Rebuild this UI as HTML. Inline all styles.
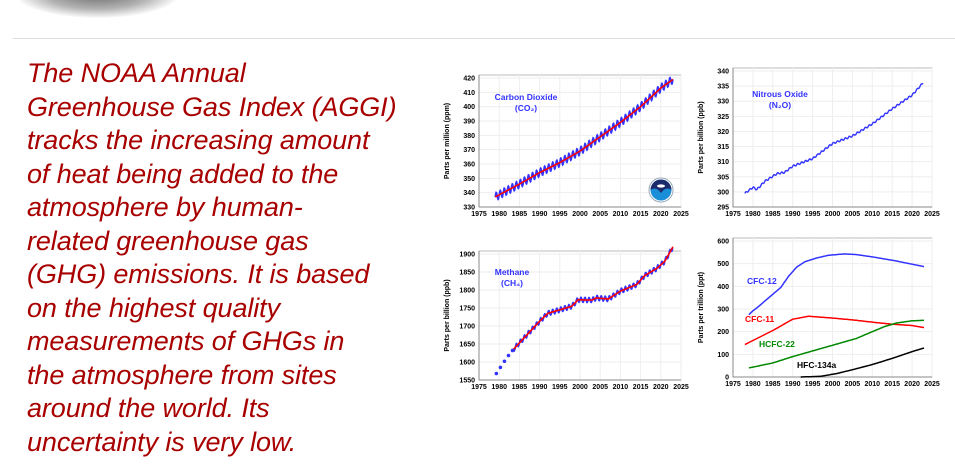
<!DOCTYPE html>
<html><head><meta charset="utf-8"><style>
html,body{margin:0;padding:0;background:#fff;width:955px;height:476px;overflow:hidden;position:relative}
.shadow{position:absolute;left:15px;top:-32px;width:165px;height:50px;border-radius:50%;background:radial-gradient(ellipse at center,rgba(0,0,0,0.6) 0%,rgba(0,0,0,0.3) 45%,rgba(0,0,0,0) 72%)}
.rule{position:absolute;left:13px;top:38px;width:942px;height:1px;background:#ddd}
.txt{position:absolute;left:27px;top:57px;font-family:"Liberation Sans",sans-serif;font-style:italic;font-size:27px;line-height:33.5px;color:#a80000;white-space:nowrap;letter-spacing:-0.1px}
svg{position:absolute;left:0;top:0}
</style></head><body>
<div class="shadow"></div>
<div class="rule"></div>
<div class="txt">The NOAA Annual<br>Greenhouse Gas Index (AGGI)<br>tracks the increasing amount<br>of heat being added to the<br>atmosphere by human-<br>related greenhouse gas<br>(GHG) emissions. It is based<br>on the highest quality<br>measurements of GHGs in<br>the atmosphere from sites<br>around the world. Its<br>uncertainty is very low.</div>
<svg id="s" width="955" height="476" xmlns="http://www.w3.org/2000/svg" font-family="Liberation Sans, sans-serif" font-weight="bold"></svg>
<script>
var s=document.getElementById('s'),out='';
function interp(pts,x){for(var i=0;i<pts.length-1;i++){if(x<=pts[i+1][0]){var a=pts[i],b=pts[i+1];var t=(x-a[0])/(b[0]-a[0]);return a[1]+t*(b[1]-a[1]);}}return pts[pts.length-1][1];}
function panel(p){
 var X=function(y){return p.x0+(y-1975)/50*(p.x1-p.x0)};
 var Y=function(v){return p.yb+(v-p.vmin)/(p.vmax-p.vmin)*(p.yt-p.yb)};
 var top=Y(p.vmax)-3;
 out+='<rect x="'+p.x0+'" y="'+top+'" width="'+(p.x1-p.x0)+'" height="'+(p.yb-top)+'" fill="#fff" stroke="#bbb" stroke-width="1"/>';
 for(var v=p.vmin;v<=p.vmax+1e-6;v+=p.step){var y=Y(v);
  out+='<line x1="'+p.x0+'" x2="'+p.x1+'" y1="'+y+'" y2="'+y+'" stroke="#eee"/>';
  out+='<text x="'+(p.x0-4)+'" y="'+(y+2.5)+'" font-size="7" text-anchor="end" fill="#000">'+v+'</text>';}
 for(var yr=1975;yr<=2025;yr+=5){var x=X(yr);
  out+='<line x1="'+x+'" x2="'+x+'" y1="'+top+'" y2="'+p.yb+'" stroke="#eee"/>';
  out+='<text x="'+x+'" y="'+(p.yb+9)+'" font-size="7" text-anchor="middle">'+yr+'</text>';}
 out+='<line x1="'+p.x0+'" x2="'+p.x0+'" y1="'+top+'" y2="'+p.yb+'" stroke="#888"/><line x1="'+p.x0+'" x2="'+p.x1+'" y1="'+p.yb+'" y2="'+p.yb+'" stroke="#888"/>';
 var cy=(top+p.yb)/2, lx=p.x0-30;
 out+='<text transform="translate('+lx+','+cy+') rotate(-90)" font-size="7" text-anchor="middle">'+p.ylab+'</text>';
 p.series.forEach(function(sr){
  var d='';
  for(var t=sr.from;t<=sr.to;t+=sr.dt){var v=interp(sr.pts,t)+(sr.amp?sr.amp*Math.sin(2*Math.PI*t):0);d+=(d?'L':'M')+X(t).toFixed(1)+','+Y(v).toFixed(1);}
  out+='<path d="'+d+'" fill="none" stroke="'+sr.c+'" stroke-width="'+sr.w+'"/>';
  if(sr.trend){var d2='';for(var t=sr.trend;t<=sr.to;t+=0.25){d2+=(d2?'L':'M')+X(t).toFixed(1)+','+Y(interp(sr.pts,t)).toFixed(1);}out+='<path d="'+d2+'" fill="none" stroke="#f00" stroke-width="1.6"/>';}
  if(sr.dots){sr.dots.forEach(function(q){out+='<circle cx="'+X(q[0])+'" cy="'+Y(q[1])+'" r="1.8" fill="#33f"/>';});}
 });
 (p.labels||[]).forEach(function(l){out+='<text x="'+l[0]+'" y="'+l[1]+'" font-size="8.5" fill="'+l[3]+'" text-anchor="'+(l[4]||'middle')+'">'+l[2]+'</text>';});
}
panel({x0:479,x1:681,yb:207,yt:78,vmin:330,vmax:420,step:10,ylab:'Parts per million (ppm)',
 series:[{pts:[[1979,337],[1985,346],[1990,354],[1995,361],[2000,369],[2005,379],[2010,389],[2015,400],[2020,413],[2023,419]],from:1979,to:2023,dt:0.08,amp:2.8,c:'#33f',w:1.6,trend:1979}],
 labels:[[526,100,'Carbon Dioxide','#33f'],[526,111,'(CO₂)','#33f']]});
panel({x0:733,x1:932,yb:207,yt:71,vmin:295,vmax:340,step:5,ylab:'Parts per billion (ppb)',
 series:[{pts:[[1978,299.5],[1980,301.5],[1981,300.8],[1983,303.5],[1986,306],[1988,306.5],[1990,308.5],[1995,311],[2000,316],[2005,318.5],[2010,322.5],[2015,327.5],[2020,332],[2023,336.5]],from:1978,to:2023,dt:0.2,amp:0.3,c:'#33f',w:1.4}],
 labels:[[780,97,'Nitrous Oxide','#33f'],[780,108,'(N₂O)','#33f']]});
panel({x0:479,x1:681,yb:380,yt:254,vmin:1550,vmax:1900,step:50,ylab:'Parts per billion (ppb)',
 series:[{pts:[[1983.5,1635],[1986,1665],[1990,1713],[1992,1735],[1995,1745],[1998,1755],[1999.5,1773],[2003,1772],[2004,1778],[2007,1775],[2010,1797],[2014,1815],[2016,1840],[2019,1860],[2021,1880],[2023,1920]],from:1983.5,to:2023,dt:0.08,amp:7,c:'#33f',w:1.6,trend:1983.5,dots:[[1979.3,1568],[1980.3,1585],[1981.3,1602],[1982.3,1618],[1983.3,1632]]}],
 labels:[[512,275,'Methane','#33f'],[512,286,'(CH₄)','#33f']]});
panel({x0:733,x1:932,yb:377,yt:241,vmin:0,vmax:600,step:100,ylab:'Parts per trillion (ppt)',
 series:[
 {pts:[[1979,275],[1980,292],[1981,305],[1983,335],[1985,365],[1987,395],[1989,445],[1991,485],[1993,508],[1996,525],[1999,537],[2003,543],[2006,540],[2010,530],[2016,512],[2023,487]],from:1979,to:2023,dt:0.25,c:'#33f',w:1.5},
 {pts:[[1978,143],[1981,170],[1985,205],[1988,235],[1990,255],[1994,268],[2000,260],[2005,252],[2010,242],[2015,233],[2020,227],[2023,218]],from:1978,to:2023,dt:0.25,c:'#f00',w:1.5},
 {pts:[[1979,40],[1985,62],[1990,90],[1995,115],[2000,140],[2006,170],[2010,200],[2013,222],[2016,238],[2020,248],[2023,250]],from:1979,to:2023,dt:0.25,c:'#080',w:1.5},
 {pts:[[1992,0],[1997,3],[2001,15],[2005,32],[2010,55],[2015,82],[2020,112],[2023,128]],from:1992,to:2023,dt:0.25,c:'#000',w:1.5}],
 labels:[[747,284,'CFC-12','#33f','start'],[745,322,'CFC-11','#f00','start'],[759,347,'HCFC-22','#080','start'],[797,368,'HFC-134a','#000','start']]});
out+='<circle cx="661" cy="190" r="12" fill="#fff" stroke="#9ab" stroke-width="1"/><circle cx="661" cy="190" r="10.5" fill="#1a8fd8"/><path d="M650.5,190 A10.5,10.5 0 0 1 671.5,190 Q666,186 661,193 Q656,186 650.5,190Z" fill="#1b2a6b"/><ellipse cx="661" cy="186" rx="4" ry="1.6" fill="#fff"/>';
s.innerHTML=out;
</script>
</body></html>
